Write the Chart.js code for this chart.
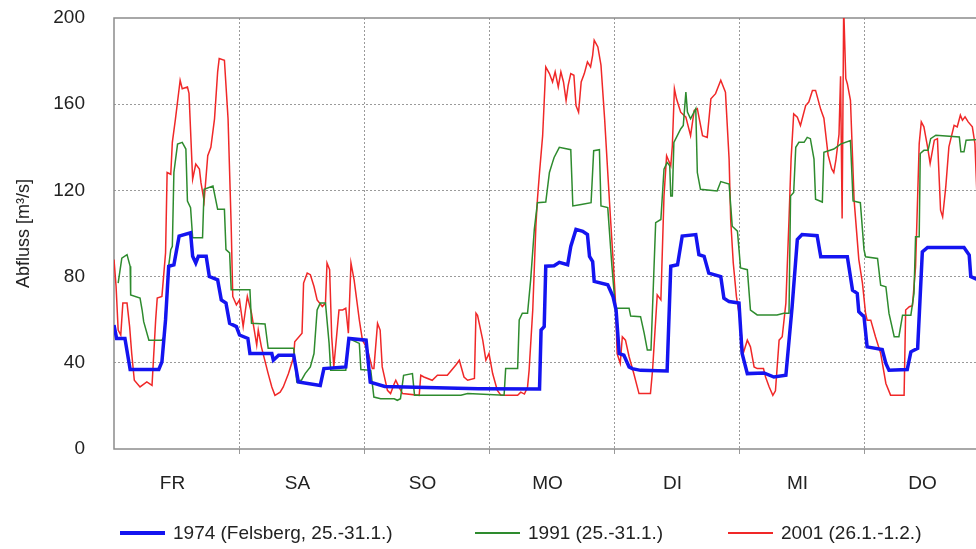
<!DOCTYPE html>
<html>
<head>
<meta charset="utf-8">
<script src="https://cdn.jsdelivr.net/npm/chart.js@4.4.0/dist/chart.umd.min.js"></script>
<style>
  html, body { margin: 0; padding: 0; background: #fff; overflow: hidden; }
  #wrap { position: relative; width: 976px; height: 549px; overflow: hidden; }
  #chart { position: absolute; left: 0; top: 0; }
  .item { position: absolute; top: 521px; height: 24px; display: flex; align-items: center;
          font: 19px "Liberation Sans", Arial, sans-serif; color: #222; white-space: nowrap; }
  .item i { display: inline-block; width: 45px; margin-right: 8px; }
</style>
</head>
<body>
<div id="wrap">
  <canvas id="chart" width="1000" height="549"></canvas>
</div>
<script>
// week of hourly discharge, hour 0 = Friday 00:00
var dayNames = ['FR', 'SA', 'SO', 'MO', 'DI', 'MI', 'DO'];

var hours1974 = [0,0.5,2.1,3.1,8.6,9.2,9.9,10.5,11.5,12.5,14.7,15.1,15.7,16.2,17.7,18.3,19.9,20.6,21.5,22.2,
  23.5,24.1,25.7,26.1,30.3,30.6,31.6,34.5,35.4,39.6,40.3,44.5,45.1,48.4,49.2,52,60,70,81.7,82.0,
  82.6,82.9,84.5,85.5,87.1,87.7,88.7,90,90.9,91.3,91.9,92.2,94.8,95.8,96.4,97,97.9,98.9,99.5,101.1,
  106.2,106.9,108.2,109.1,111.7,112.3,113.3,114.2,116.5,117.1,118.1,120,120.6,121.6,124.8,126.7,129,130.2,131.2,132.1,
  135,135.7,140.8,141.8,142.7,143,144,144.6,147.5,148.2,148.8,152.3,153,154.3,155.2,156.2,163.2,164.2,164.5,166];
var flow1974 = [57.5,51.3,51.3,36.9,36.9,40.4,60,84.8,85.5,98.8,100.3,89.4,86.3,89.4,89.4,80,78.5,69.2,67.7,58.3,
  56.8,52.9,51.3,44.3,44.3,41.2,43.5,43.5,31.1,29.5,37.3,38.1,51.3,50.5,31,29,28.5,28,27.8,55.2,
  56.8,84.8,85,86.6,85.5,94,101.9,101,99.5,89.4,87,77.8,76.2,70.8,64.5,44.3,43.5,38.1,37.3,36.5,
  36.2,84.8,85.5,98.8,99.5,90.2,89.4,81.6,80,70,68.4,67.7,44.3,35,35.3,33.4,34.2,66.1,97.2,99.5,
  99,89.2,89.2,73.7,72.2,63.7,61.4,47.4,46.2,39.7,36.6,36.9,45.1,46.7,91.5,93.5,93.5,90,80,78.4];

var hours1991 = [0.8,1.5,2.5,3.1,3.2,5.0,5.4,5.7,6.7,9.2,9.6,10.5,10.9,11.2,11.5,12.2,13.1,13.8,14.1,14.7,
  15.1,17.0,17.3,19.0,19.9,21.2,21.5,22.2,22.5,26.1,26.4,29.0,29.6,34.5,35.1,36.0,36.7,37.7,38.4,39.0,
  39.6,40.6,41.3,41.6,44.5,45.1,47.1,47.4,49.3,49.9,51.2,53.8,54.4,55.0,55.6,57.3,57.7,66.6,67.9,74.9,
  75.2,77.5,77.8,78.4,79.4,80.0,80.7,81.3,82.9,83.6,84.2,84.5,85.5,87.7,88.1,89.7,91.6,92.1,93.2,93.5,
  94.8,95.6,96.3,96.6,98.9,99.2,101.1,101.8,102.4,103.1,104.0,105.0,105.6,106.2,106.7,106.9,107.2,107.5,108.8,109.3,
  109.8,110.1,110.7,111.7,112.0,112.6,115.8,116.5,118.1,118.7,119.7,120.3,121.6,122.2,123.5,127.3,128.6,129.6,129.9,130.5,
  130.9,131.5,132.5,133.1,133.7,134.4,134.7,136.0,136.3,138.2,139.5,141.4,141.9,143.3,144.0,144.3,146.6,147.2,148.2,148.8,
  149.8,150.7,151.4,153.0,153.6,153.9,154.6,154.8,155.5,156.3,156.8,157.8,162.3,162.6,163.2,163.6,166];
var flow1991 = [77,88.6,90.2,84.8,71.5,70,64.5,59.1,50.5,50.5,52,85,92.5,94,128.3,141.5,142.3,139.2,115.1,112,
  98,98,120.5,122,111.2,111.2,92.5,91,73.9,73.9,58.3,58,46.7,46.7,31.1,32,35,38.1,44.3,64.5,
  67.7,67.7,49,36.5,36.5,51.3,49,36.9,36.5,24.1,23.3,23.3,22.6,23.3,34.2,35,24.9,24.9,25.7,24.9,
  37.3,37.3,59.9,63,63,78.5,101.9,114.3,114.6,128.3,133,135.3,140,138.9,112.8,113.5,114.3,138.4,138.9,112.8,
  112,84.8,64.5,65.3,65.3,61.7,61.4,53.7,45.9,45.9,105,106.5,129.9,133,131.4,117.4,117.4,142.3,148.5,150.1,
  165.6,156.3,153.2,157.9,128.3,120.5,119.7,124.1,122.9,103.4,101.1,84,83.2,64.5,62.2,62.2,63,63,117.4,119,
  140,142.3,142.3,144.6,144,134.5,115.9,114.6,137.7,139.2,141.5,143.1,115.1,114.3,92.5,89.2,88.4,76,75.3,62.9,
  52.1,52.1,62.1,62.1,72.2,98.5,98.5,137.1,138.6,138.6,144,145.6,144.8,137.9,137.9,143.3,143.6];

var hours2001 = [0,0.4,0.8,1.3,1.7,2.5,3.0,3.4,3.9,5.0,6.3,7.3,8.0,8.3,9.2,9.9,10.2,10.9,11.2,11.8,
  12.7,13.1,14.1,14.4,15.1,15.7,16.4,16.7,17.3,18.0,18.6,19.3,19.9,20.2,21.2,21.9,22.5,22.8,23.5,24.1,
  24.8,25.6,26.4,27.4,27.7,28.3,29.6,30.3,30.9,31.9,32.5,33.5,34.5,34.7,36.1,36.4,37.1,37.7,38.4,39.0,
  40.0,40.6,40.9,41.4,41.8,42.2,43.2,43.9,44.5,45.0,45.5,46.1,47.1,47.7,48.6,49.6,49.9,50.6,51.1,51.5,
  52.5,53.1,53.8,54.1,54.7,55.4,58.6,58.9,59.5,61.1,62.1,64.0,65.6,66.3,67.2,67.9,69.2,69.5,69.8,70.8,
  71.4,72.0,72.7,73.6,74.3,77.5,78.1,78.8,79.4,79.7,80.4,81.0,81.3,81.7,82.3,82.9,83.6,84.2,84.7,85.3,
  85.8,86.3,86.8,87.2,87.7,88.3,88.7,89.2,89.7,90.3,90.9,91.5,91.9,92.2,92.9,93.5,94.2,94.8,95.3,95.9,
  96.3,96.6,97.2,97.6,98.2,98.9,99.8,100.8,103.0,103.4,104.3,105.0,105.6,106.1,106.9,107.2,107.6,108.0,108.8,109.8,
  110.7,111.4,112.0,113.0,113.9,114.6,115.5,116.5,117.4,118.1,118.4,118.9,119.5,120.2,120.8,121.6,122.2,122.9,123.5,124.7,
  125.1,125.8,126.5,127.0,127.7,128.3,129.0,129.6,130.0,130.5,131.2,131.8,132.8,133.4,134.1,134.7,135.7,136.3,137.1,137.8,
  138.2,138.6,139.2,139.5,139.8,140.1,140.5,140.8,141.4,142.1,143.0,143.7,144.3,144.6,145.3,146.2,147.2,148.2,149.1,151.7,
  152.0,152.7,153.3,153.9,154.6,155.0,155.5,156.2,156.7,157.5,158.1,158.7,159.1,159.7,160.3,161.3,161.9,162.5,162.9,163.4,
  164.0,164.8,165.3,165.7,166.2];
var flow2001 = [87.9,75.4,55.2,52.9,67.7,67.7,56.8,44.3,31.9,28.8,31.1,29.5,59.9,70,70.8,91,128.3,127.5,142.3,153.2,
  171.1,167.2,168,165,125.2,132.2,129.9,123.6,115.1,136.1,140,153.2,175,181.2,180.4,153.2,103.4,70.8,66.9,69.2,
  56.8,70.8,63,48.2,55.2,47.4,35,28.8,24.9,26.4,28.8,35,42.8,49.8,53.7,77,81.6,80.9,75.4,69.2,
  66.1,67.7,86.3,83.2,52.1,38.1,64.5,64.5,65.3,53.7,86.3,78.5,59.9,50.5,46.7,37.3,37.3,58.3,55.2,38.1,
  27.2,25.7,30.3,31.9,28.8,25.7,24.9,34.2,33.4,31.9,34.2,34.2,38.9,41.2,33.4,31.9,32.7,63,62,50.5,
  41.2,44.3,35,27.2,24.9,24.9,26.4,25.5,28.8,36.5,64.5,103.4,115.9,128.3,145.4,177.3,174.2,170.3,175,168,
  175,170.3,161.7,168.7,174.2,173.4,159.4,156.3,170.3,174.2,179.6,177.3,182.7,189.7,186.6,178.1,153.2,128.3,108.1,84.8,
  67.7,44.3,39.7,52.1,50.5,42.8,35,25.7,25.7,36.5,71.5,69.2,117.4,136.1,131.4,140.7,167.2,162.5,156.3,154,
  145.4,157.1,157.9,145.4,144.6,162.5,164.9,171.1,165.6,134.5,106.5,86.3,70.8,59.9,44.3,50.5,47.4,38.1,37.3,37.3,
  33.4,28.8,24.9,27,50.5,52.1,67.7,106.5,134.5,155.5,154,150.1,159.4,161,166.4,166.4,157.5,153.5,136.5,130,
  128.3,134,146,173,107,205,172,169.5,161.8,115.5,88,77,63,59.8,59.8,52.1,44.4,30.4,25,25,
  64.5,66,66.5,84.5,141.7,151.8,149.5,140.2,132.5,143.3,144,110.8,107.7,121.6,140.2,150.2,149.5,154.9,152.5,154.1,
  151.8,149.5,141.7,117,105];

var seriesLabels = ['1974 (Felsberg, 25.-31.1.)', '1991 (25.-31.1.)', '2001 (26.1.-1.2.)'];
var seriesColors = ['#1414f0', '#2e8b2e', '#f02828'];
var seriesWidths = [3.5, 1.5, 1.5];
var legendLeft = [120, 475, 728];

function toPoints(hours, flow) {
    return hours.map(function (h, i) { return { x: h, y: flow[i] }; });
}

var seriesData = [
    toPoints(hours1974, flow1974),
    toPoints(hours1991, flow1991),
    toPoints(hours2001, flow2001)
];

var tickFont = { family: '"Liberation Sans", Arial, sans-serif', size: 19 };
var gridGrey = '#9a9a9a';

// grey box round the plot area
var plotFrame = {
    id: 'plotFrame',
    beforeDatasetsDraw: function (chart) {
        var ctx = chart.ctx, a = chart.chartArea;
        ctx.save();
        ctx.strokeStyle = '#8c8c8c';
        ctx.lineWidth = 1.5;
        ctx.strokeRect(a.left, a.top, a.right - a.left, a.bottom - a.top);
        ctx.restore();
    }
};

new Chart(document.getElementById('chart'), {
    type: 'line',
    data: {
        datasets: seriesData.map(function (pts, i) {
            return {
                label: seriesLabels[i],
                data: pts,
                borderColor: seriesColors[i],
                borderWidth: seriesWidths[i],
                pointRadius: 0,
                tension: 0,
                fill: false
            };
        })
    },
    options: {
        responsive: false,
        animation: false,
        layout: { autoPadding: false, padding: { left: 0, top: 18, right: 11, bottom: 50 } },
        plugins: {
            legend: { display: false },
            tooltip: { enabled: false }
        },
        scales: {
            x: {
                type: 'linear',
                min: 0,
                max: 168,
                border: { display: false, dash: [2, 2] },
                grid: {
                    color: function (c) {
                        var v = c.tick ? c.tick.value : 0;
                        return (v % 24 === 0 && v > 0 && v < 168) ? gridGrey : 'rgba(0,0,0,0)';
                    },
                    tickLength: 5
                },
                ticks: {
                    stepSize: 12,
                    autoSkip: false,
                    maxRotation: 0,
                    padding: 18,
                    labelOffset: -4,
                    color: '#222',
                    font: tickFont,
                    callback: function (v) {
                        return v % 24 === 12 ? dayNames[(v - 12) / 24] : '';
                    }
                },
                afterFit: function (s) {
                    s.height = 50;
                    s.paddingLeft = 0;
                    s.paddingRight = 0;
                }
            },
            y: {
                min: 0,
                max: 200,
                border: { display: false, dash: [2, 2] },
                grid: {
                    color: function (c) {
                        var v = c.tick ? c.tick.value : 0;
                        return (v > 0 && v < 200) ? gridGrey : 'rgba(0,0,0,0)';
                    },
                    drawTicks: false
                },
                ticks: { stepSize: 40, padding: 29, color: '#222', font: tickFont },
                title: {
                    display: true,
                    text: 'Abfluss [m³/s]',
                    color: '#222',
                    font: { family: '"Liberation Sans", Arial, sans-serif', size: 18 },
                    padding: { top: 13, bottom: 0 }
                },
                afterFit: function (s) {
                    // fixed axis width; the tick padding must not push the plot down
                    s.width = 114;
                    s.paddingTop = 0;
                    s.paddingBottom = 0;
                }
            }
        }
    },
    plugins: [plotFrame]
});

// legend row under the axis
var wrap = document.getElementById('wrap');
seriesLabels.forEach(function (label, i) {
    var item = document.createElement('div');
    item.className = 'item';
    item.style.left = legendLeft[i] + 'px';
    var line = document.createElement('i');
    line.style.height = (i === 0 ? 4 : 2) + 'px';
    line.style.background = seriesColors[i];
    item.appendChild(line);
    item.appendChild(document.createTextNode(label));
    wrap.appendChild(item);
});
</script>
</body>
</html>
